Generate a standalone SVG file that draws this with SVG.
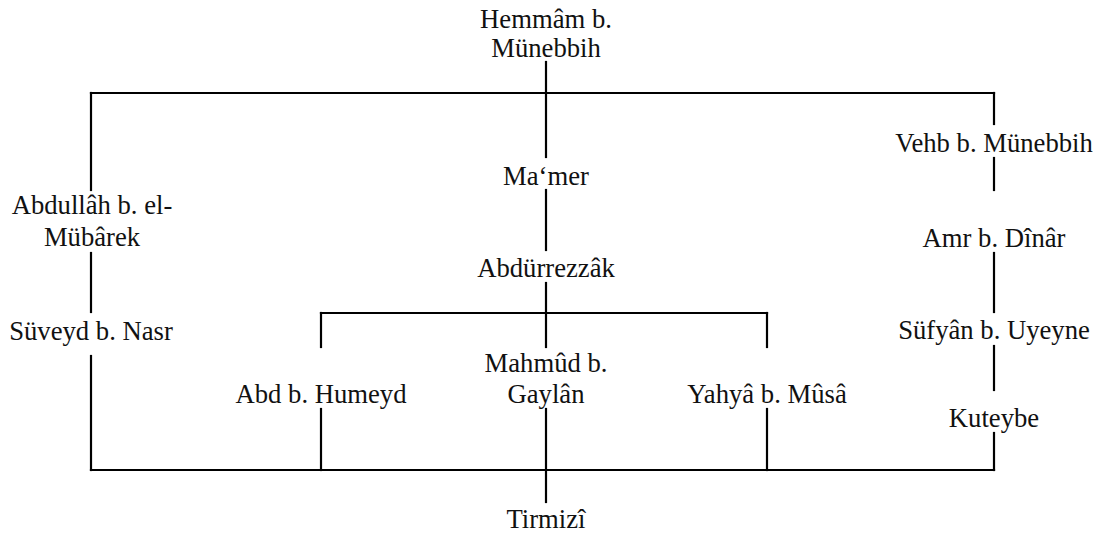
<svg xmlns="http://www.w3.org/2000/svg" width="1101" height="536" viewBox="0 0 1101 536">
  <style>
    .lbl { font-family: "Liberation Serif", "Times New Roman", serif; font-size: 26.67px; fill: #111; text-anchor: middle; }
    .edge { stroke: #000; stroke-width: 2.2; fill: none; stroke-linecap: square; }
  </style>
  <rect width="1101" height="536" fill="#fff"/>

  <!-- connectors -->
  <g id="connectors">
    <path class="edge" d="M91,93 H994"/>
    <path class="edge" d="M91,470 H994"/>
    <path class="edge" d="M321,313 H767"/>
    <!-- left chain -->
    <path class="edge" d="M91,93 V190"/>
    <path class="edge" d="M91,253 V312"/>
    <path class="edge" d="M91,356 V470"/>
    <!-- right chain -->
    <path class="edge" d="M994,93 V124"/>
    <path class="edge" d="M994,158 V190"/>
    <path class="edge" d="M994,253 V312"/>
    <path class="edge" d="M994,346 V390"/>
    <path class="edge" d="M994,433 V470"/>
    <!-- centre chain -->
    <path class="edge" d="M546,62 V157"/>
    <path class="edge" d="M546,190 V250"/>
    <path class="edge" d="M546,283 V347"/>
    <path class="edge" d="M321,313 V347"/>
    <path class="edge" d="M767,313 V347"/>
    <path class="edge" d="M321,409 V470"/>
    <path class="edge" d="M546,409 V502"/>
    <path class="edge" d="M767,409 V470"/>
  </g>

  <g id="hemmam"><text class="lbl" x="546" y="28">Hemmâm b.</text><text class="lbl" x="546" y="57">Münebbih</text></g>
  <g id="vehb"><text class="lbl" x="994" y="152">Vehb b. Münebbih</text></g>
  <g id="mamer"><text class="lbl" x="546" y="185">Ma‘mer</text></g>
  <g id="abdullah"><text class="lbl" x="92" y="214">Abdullâh b. el-</text><text class="lbl" x="92" y="246">Mübârek</text></g>
  <g id="amr"><text class="lbl" x="994" y="247">Amr b. Dînâr</text></g>
  <g id="abdurrezzak"><text class="lbl" x="546" y="277">Abdürrezzâk</text></g>
  <g id="suveyd"><text class="lbl" x="91" y="340">Süveyd b. Nasr</text></g>
  <g id="sufyan"><text class="lbl" x="994" y="339">Süfyân b. Uyeyne</text></g>
  <g id="abd"><text class="lbl" x="321" y="403">Abd b. Humeyd</text></g>
  <g id="mahmud"><text class="lbl" x="546" y="372">Mahmûd b.</text><text class="lbl" x="546" y="403">Gaylân</text></g>
  <g id="yahya"><text class="lbl" x="767" y="403">Yahyâ b. Mûsâ</text></g>
  <g id="kuteybe"><text class="lbl" x="994" y="427">Kuteybe</text></g>
  <g id="tirmizi"><text class="lbl" x="546" y="528">Tirmizî</text></g>
</svg>
